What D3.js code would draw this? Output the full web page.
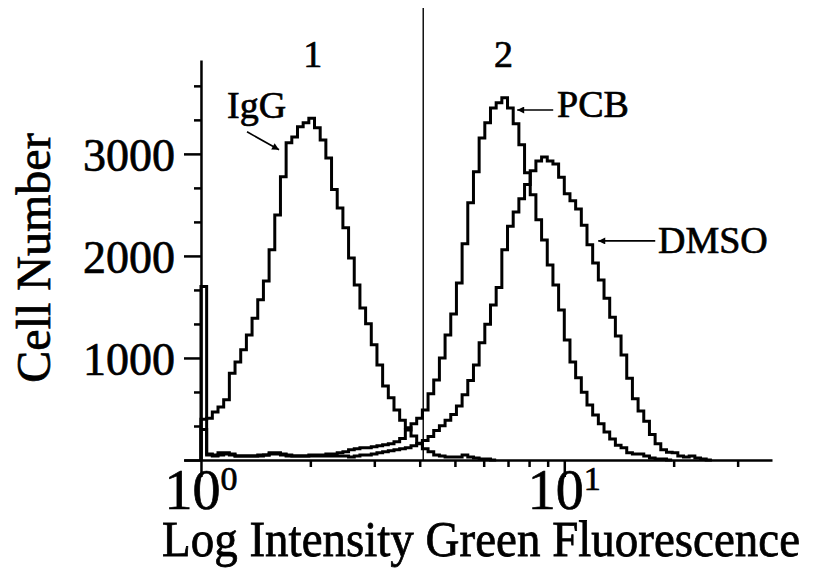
<!DOCTYPE html>
<html>
<head>
<meta charset="utf-8">
<script src="https://cdn.jsdelivr.net/npm/d3@7"></script>
<style>
  html, body { margin: 0; padding: 0; background: #fff; }
  svg text { font-family: "Liberation Serif", "Times New Roman", serif; fill: #000; stroke: #000; stroke-width: 0.7px; }
</style>
</head>
<body>
<svg id="chart" width="817" height="571"></svg>
<script>
// Flow cytometry histograms: cell counts per log channel (64 channels per decade, channel 0 = 10^0)
const channelsPerDecade = 64;

const iggCounts = [
  400, 410, 470, 520, 590, 850, 960, 1080, 1225, 1390,
  1570, 1755, 2060, 2400, 2775, 3110, 3165, 3265, 3305, 3350,
  3255, 3135, 2960, 2650, 2470, 2275, 1980, 1715, 1490, 1335,
  1130, 930, 725, 610, 490, 390, 315, 235, 165, 110,
  80, 50, 40, 30, 30, 30, 50, 30, 20, 10,
  10, 0
];

const pcbCounts = [
  300, 60, 50, 70, 70, 50, 40, 40, 40, 40,
  50, 50, 70, 70, 60, 50, 40, 40, 40, 50,
  50, 50, 60, 60, 70, 80, 100, 110, 120, 120,
  130, 140, 150, 160, 180, 210, 295, 355, 410, 490,
  650, 785, 1000, 1225, 1430, 1735, 2120, 2520, 2825, 3155,
  3305, 3450, 3500, 3550, 3450, 3295, 3090, 2815, 2600, 2355,
  2155, 1910, 1715, 1470, 1175, 960, 805, 665, 540, 440,
  355, 275, 205, 145, 120, 70, 60, 60, 40, 20,
  10, 10, 0
];

const dmsoCounts = [
  1700, 50, 40, 50, 60, 60, 40, 40, 40, 40,
  40, 50, 60, 60, 50, 40, 40, 40, 40, 40,
  40, 40, 40, 40, 40, 40, 30, 40, 50, 50,
  60, 70, 80, 90, 100, 110, 120, 140, 160, 190,
  230, 290, 335, 390, 445, 530, 640, 780, 930, 1150,
  1330, 1520, 1690, 2060, 2290, 2430, 2560, 2700, 2835, 2930,
  2970, 2930, 2900, 2770, 2610, 2540, 2460, 2300, 2110, 1930,
  1765, 1585, 1400, 1215, 1030, 800, 600, 480, 380, 250,
  160, 100, 75, 70, 40, 30, 40, 20, 10, 0
];

const seriesNames = ["IgG", "PCB", "DMSO"];
const seriesCounts = [iggCounts, pcbCounts, dmsoCounts];

// Axis ticks
const yMajorTicks = [0, 1000, 2000, 3000];
const yMinorTicks = [1000 / 3, 2000 / 3, 4000 / 3, 5000 / 3, 7000 / 3, 8000 / 3, 10000 / 3, 11000 / 3];
const xMajorTicks = [1, 10];
const xMajorExponents = ["0", "1"];
const xMinorTicks = [2, 3, 4, 5, 6, 7, 8, 9, 20, 30];

// Gate marker separating region 1 and region 2
const gateValue = 4.09;
const regionNames = ["1", "2"];
const regionCenters = [2.03, 6.8];

// Series call-outs: arrow tip in data units
const calloutTips = [
  { x: 1.64, y: 3040 },
  { x: 7.42, y: 3430 },
  { x: 12.4, y: 2147 }
];

const svg = d3.select("#chart");

const x = d3.scaleLog().domain([0.898, 37.3]).range([184, 772]);
const y = d3.scaleLinear().domain([0, 3920]).range([460, 60]);

const channelValue = k => Math.pow(10, k / channelsPerDecade);

// ---- axes ----
const axisStroke = 2.5;

const yAxisG = svg.append("g").attr("transform", `translate(${x(1)},0)`);
yAxisG.call(d3.axisLeft(y).tickValues(yMajorTicks).tickSize(17).tickSizeOuter(0).tickPadding(9)
  .tickFormat(d => d === 0 ? "" : d3.format("d")(d)));
yAxisG.append("g").call(d3.axisLeft(y).tickValues(yMinorTicks).tickSize(7).tickFormat(""))
  .select(".domain").remove();
yAxisG.selectAll("path.domain, line").attr("stroke", "#000").attr("stroke-width", axisStroke);
yAxisG.selectAll("text").attr("font-size", 46).attr("dy", "0.36em")
  .attr("font-family", "Liberation Serif, serif");

const xAxisG = svg.append("g").attr("transform", `translate(0,${y(0)})`);
xAxisG.call(d3.axisBottom(x).tickValues(xMajorTicks).tickSize(17).tickSizeOuter(0).tickFormat(""));
xAxisG.append("g").call(d3.axisBottom(x).tickValues(xMinorTicks).tickSize(7).tickFormat(""))
  .select(".domain").remove();
xAxisG.selectAll("path.domain, line").attr("stroke", "#000").attr("stroke-width", axisStroke);

// power-of-ten tick labels
xMajorTicks.forEach((v, i) => {
  const t = svg.append("text")
    .attr("x", x(v)).attr("y", 509)
    .attr("text-anchor", "middle")
    .attr("font-size", 56);
  t.append("tspan").text("10");
  t.append("tspan").attr("font-size", 34).attr("dy", -19).text(xMajorExponents[i]);
});

// axis titles
svg.append("text")
  .attr("transform", "translate(481,556) scale(1,1.1)")
  .attr("text-anchor", "middle")
  .attr("font-size", 47)
  .text("Log Intensity Green Fluorescence");

svg.append("text")
  .attr("transform", "translate(50,258) rotate(-90)")
  .attr("text-anchor", "middle")
  .attr("font-size", 48)
  .text("Cell Number");

// ---- gate line and region numbers ----
svg.append("line")
  .attr("x1", x(gateValue)).attr("x2", x(gateValue))
  .attr("y1", 8).attr("y2", y(0))
  .attr("stroke", "#000").attr("stroke-width", 1.4);

regionNames.forEach((name, i) => {
  svg.append("text")
    .attr("x", x(regionCenters[i])).attr("y", 67)
    .attr("text-anchor", "middle")
    .attr("font-size", 38)
    .text(name);
});

// ---- histograms (step outlines) ----
const line = d3.line()
  .x(d => x(d[0]))
  .y(d => y(d[1]))
  .curve(d3.curveStepAfter);

seriesCounts.forEach(counts => {
  const pts = [[channelValue(0), 0]];
  counts.forEach((c, k) => pts.push([channelValue(k), c]));
  pts.push([channelValue(counts.length), counts[counts.length - 1]]);
  svg.append("path")
    .attr("d", line(pts))
    .attr("fill", "none")
    .attr("stroke", "#000")
    .attr("stroke-width", 3)
    .attr("stroke-linejoin", "miter");
});

// ---- call-outs ----
const defs = svg.append("defs");
defs.append("marker")
  .attr("id", "head")
  .attr("viewBox", "0 0 10 10")
  .attr("refX", 10).attr("refY", 5)
  .attr("markerWidth", 10).attr("markerHeight", 7)
  .attr("markerUnits", "userSpaceOnUse")
  .attr("orient", "auto")
  .append("path").attr("d", "M0,0L10,5L0,10Z").attr("fill", "#000");

const calloutLayout = [
  { dx: -32, dy: -18, tx: 227, ty: 118, anchor: "start" },
  { dx: 36, dy: 0, tx: 557, ty: 117, anchor: "start" },
  { dx: 57, dy: 0, tx: 658, ty: 253, anchor: "start" }
];

seriesNames.forEach((name, i) => {
  const tip = calloutTips[i];
  const lay = calloutLayout[i];
  const tx = x(tip.x), ty = y(tip.y);
  svg.append("line")
    .attr("x1", tx + lay.dx).attr("y1", ty + lay.dy)
    .attr("x2", tx).attr("y2", ty)
    .attr("stroke", "#000").attr("stroke-width", 1.6)
    .attr("marker-end", "url(#head)");
  svg.append("text")
    .attr("x", lay.tx).attr("y", lay.ty)
    .attr("text-anchor", lay.anchor)
    .attr("font-size", 38)
    .text(name);
});
</script>
</body>
</html>
